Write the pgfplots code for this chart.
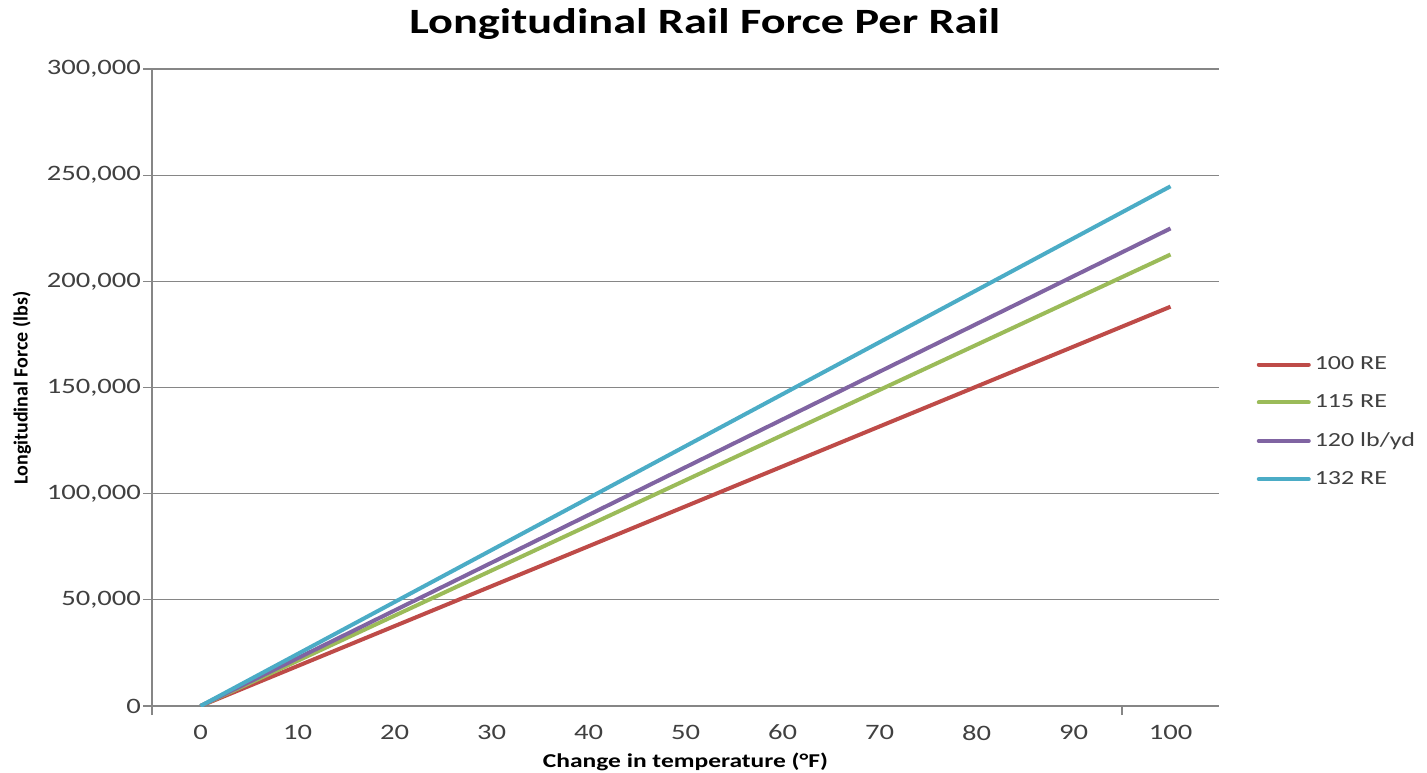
\documentclass[border=0pt]{standalone}
\usepackage{fontspec}
\setmainfont{Carlito}[FakeStretch=1.3]
\newfontfamily\narrowfont{Carlito}
\usepackage{pgfplots}
\pgfplotsset{compat=1.18}
\definecolor{cRed}{HTML}{BE4B48}
\definecolor{cGreen}{HTML}{9BBB59}
\definecolor{cPurple}{HTML}{8064A2}
\definecolor{cCyan}{HTML}{4BACC6}
\definecolor{axgray}{HTML}{868686}
\definecolor{txtgray}{HTML}{404040}
\pgfplotstableread{
dT   re100   re115   lb120   re132
0    0       0       0       0
10   18806   21263   22491   24476
20   37611   42525   44982   48951
30   56417   63788   67473   73427
40   75222   85050   89964   97902
50   94028   106313  112455  122378
60   112833  127575  134946  146853
70   131639  148838  157437  171329
80   150444  170100  179928  195804
90   169250  191363  202419  220280
100  188055  212625  224910  244755
}\data
\begin{document}
\begin{tikzpicture}
\path[use as bounding box] (0pt,0pt) rectangle (713.5pt,386pt);
\begin{axis}[
  at={(76pt,33pt)}, anchor=south west,
  scale only axis, width=533.5pt, height=318.5pt,
  xmin=-5, xmax=105, ymin=0, ymax=300000,
  clip mode=individual,
  axis x line*=bottom, axis y line*=left,
  axis line style={draw=axgray, line width=0.6pt},
  xtick={0,10,...,100}, ytick={0,50000,...,300000},
  scaled y ticks=false,
  ymajorgrids, grid style={draw=axgray, line width=0.6pt},
  tick align=outside, major tick length=4.5pt,
  ytick style={draw=axgray, line width=0.6pt},
  xtick style={draw=none},
  extra x ticks={-5,95}, extra x tick labels={},
  extra x tick style={xtick style={draw=axgray, line width=0.6pt}, grid=none},
  /pgf/number format/assume math mode=true,
  /pgf/number format/.cd, fixed, 1000 sep={,}, /pgfplots/.cd,
  ticklabel style={font=\fontsize{11}{12}\selectfont, text=txtgray},
  xticklabel style={yshift=-1.5pt},
  yticklabel style={xshift=2.5pt},
  legend style={draw=none, at={(1.035,0.446)}, anchor=west,
    font=\fontsize{10}{12}\selectfont, text=txtgray,
    row sep=7pt, inner sep=0pt},
  legend cell align=left,
  legend image code/.code={\draw[#1, line width=2pt, line cap=round] (0pt,0pt) -- (25pt,0pt);},
  every axis plot/.append style={line width=2pt, line join=round},
]
\addplot[cRed]    table[x=dT, y=re100] {\data};
\addplot[cGreen]  table[x=dT, y=re115] {\data};
\addplot[cPurple] table[x=dT, y=lb120] {\data};
\addplot[cCyan]   table[x=dT, y=re132] {\data};
\legend{100 RE, 115 RE, 120 lb/yd, 132 RE}
\node[font=\bfseries\fontsize{17.8}{20}\selectfont] at (axis description cs:0.518,1.07) {Longitudinal Rail Force Per Rail};
\node[font=\narrowfont\bfseries\fontsize{10}{12}\selectfont, rotate=90] at (axis description cs:-0.122,0.499) {Longitudinal Force (lbs)};
\node[font=\bfseries\fontsize{9.8}{12}\selectfont] at (axis description cs:0.50,-0.088) {Change in temperature (°F)};
\end{axis}
\end{tikzpicture}
\end{document}
